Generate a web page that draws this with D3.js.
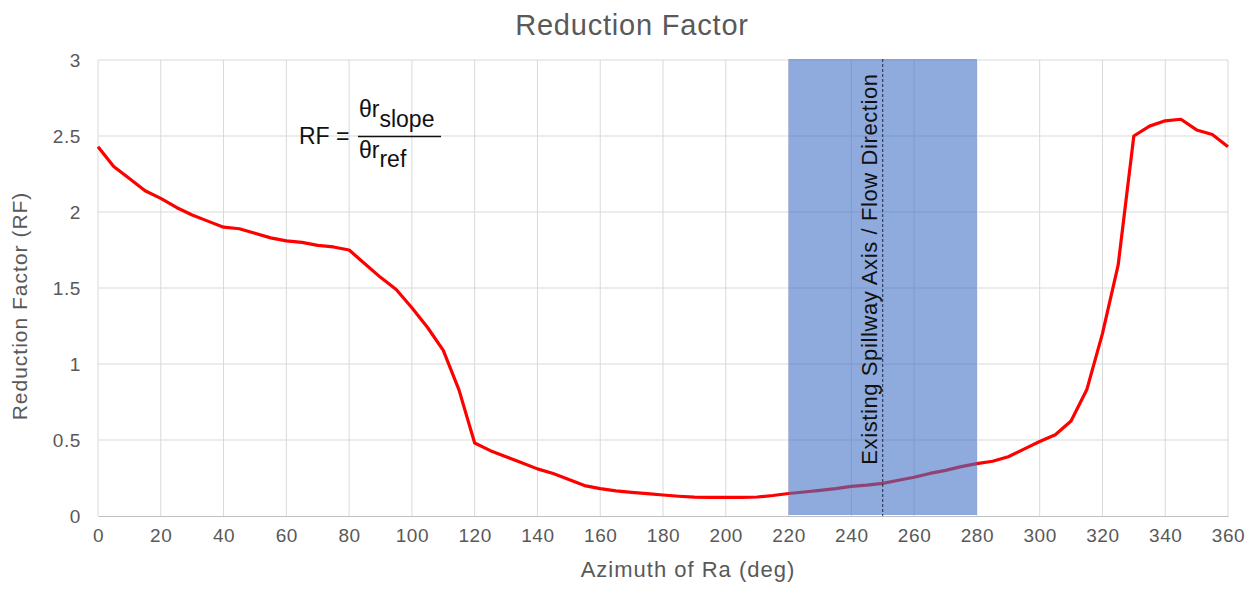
<!DOCTYPE html>
<html>
<head>
<meta charset="utf-8">
<script src="https://cdn.jsdelivr.net/npm/d3@7"></script>
<style>
  html, body { margin: 0; padding: 0; background: #fff; }
  svg { display: block; font-family: "Liberation Sans", Arial, sans-serif; }
</style>
</head>
<body>
<svg id="chart" width="1255" height="595"></svg>
<script>
// Azimuth of Ra (deg), sampled every 5 degrees
const azimuth = [
  0, 5, 10, 15, 20, 25, 30, 35, 40, 45, 50, 55, 60, 65, 70, 75, 80, 85, 90, 95,
  100, 105, 110, 115, 120, 125, 130, 135, 140, 145, 150, 155, 160, 165, 170, 175,
  180, 185, 190, 195, 200, 205, 210, 215, 220, 225, 230, 235, 240, 245, 250, 255,
  260, 265, 270, 275, 280, 285, 290, 295, 300, 305, 310, 315, 320, 325, 330, 335,
  340, 345, 350, 355, 360
];
// Reduction factor RF at each azimuth
const reductionFactor = [
  2.43, 2.30, 2.22, 2.14, 2.09, 2.03, 1.98, 1.94, 1.90, 1.89, 1.86, 1.83, 1.81, 1.80, 1.78, 1.77, 1.75, 1.66, 1.57, 1.49,
  1.37, 1.24, 1.09, 0.83, 0.48, 0.43, 0.39, 0.35, 0.31, 0.28, 0.24, 0.20, 0.18, 0.165, 0.155, 0.147,
  0.138, 0.130, 0.124, 0.123, 0.123, 0.123, 0.125, 0.135, 0.148, 0.158, 0.168, 0.180, 0.195, 0.203, 0.215, 0.235,
  0.255, 0.280, 0.300, 0.325, 0.345, 0.360, 0.390, 0.440, 0.490, 0.535, 0.625, 0.830, 1.20, 1.65, 2.50, 2.565,
  2.60, 2.61, 2.54, 2.51, 2.43
];
const xTicks = [0, 20, 40, 60, 80, 100, 120, 140, 160, 180, 200, 220, 240, 260, 280, 300, 320, 340, 360];
const yTicks = [0, 0.5, 1, 1.5, 2, 2.5, 3];
// Spillway axis band and flow direction
const bandRange = [220, 280];
const flowDirection = [250];

const svg = d3.select("#chart");
const margin = { left: 98, right: 27, top: 60, bottom: 79 };
const W = 1255, H = 595;

const x = d3.scaleLinear().domain([0, 360]).range([margin.left, W - margin.right]);
const y = d3.scaleLinear().domain([0, 3]).range([H - margin.bottom, margin.top]);

const textColor = "#595959";

// Title
svg.append("text")
  .attr("x", 632).attr("y", 35)
  .attr("text-anchor", "middle")
  .attr("font-size", 29).attr("letter-spacing", 0.8)
  .attr("fill", textColor)
  .text("Reduction Factor");

// Gridlines
const grid = svg.append("g");
grid.selectAll("line.h").data(yTicks.filter(d => d > 0)).join("line")
  .attr("class", "h")
  .attr("x1", x(0)).attr("x2", x(360))
  .attr("y1", d => y(d)).attr("y2", d => y(d))
  .attr("stroke", "#d9d9d9").attr("stroke-width", 1);
grid.selectAll("line.v").data(xTicks).join("line")
  .attr("class", "v")
  .attr("x1", d => x(d)).attr("x2", d => x(d))
  .attr("y1", y(3)).attr("y2", y(0))
  .attr("stroke", "#d9d9d9").attr("stroke-width", 1);

// X axis
const xAxis = svg.append("g")
  .attr("transform", `translate(0,${y(0)})`)
  .call(d3.axisBottom(x).tickValues(xTicks).tickSize(0).tickPadding(13).tickFormat(d3.format("d")));
xAxis.select(".domain").attr("stroke", "#bfbfbf").attr("stroke-width", 1.2);
xAxis.selectAll("text")
  .attr("font-size", 19).attr("letter-spacing", 0.6)
  .attr("fill", textColor)
  .attr("font-family", "Liberation Sans, Arial, sans-serif");

// Y axis
const yAxis = svg.append("g")
  .attr("transform", `translate(${x(0)},0)`)
  .call(d3.axisLeft(y).tickValues(yTicks).tickSize(0).tickPadding(17).tickFormat(d => d3.format("")(d)));
yAxis.select(".domain").remove();
yAxis.selectAll("text")
  .attr("font-size", 19).attr("letter-spacing", 0.6)
  .attr("fill", textColor)
  .attr("font-family", "Liberation Sans, Arial, sans-serif");

// Axis titles
svg.append("text")
  .attr("x", 688).attr("y", 577)
  .attr("text-anchor", "middle")
  .attr("font-size", 22).attr("letter-spacing", 1.0)
  .attr("fill", textColor)
  .text("Azimuth of Ra (deg)");

svg.append("text")
  .attr("transform", "translate(27,306) rotate(-90)")
  .attr("text-anchor", "middle")
  .attr("font-size", 21).attr("letter-spacing", 1.0)
  .attr("fill", textColor)
  .text("Reduction Factor (RF)");

// RF curve
const line = d3.line()
  .x((d, i) => x(azimuth[i]))
  .y(d => y(d));
svg.append("path")
  .datum(reductionFactor)
  .attr("d", line)
  .attr("fill", "none")
  .attr("stroke", "#ff0000")
  .attr("stroke-width", 3.2)
  .attr("stroke-linejoin", "round");

// Spillway band (semi-transparent, drawn over the curve)
svg.append("rect")
  .attr("x", x(bandRange[0])).attr("y", y(3) - 1)
  .attr("width", x(bandRange[1]) - x(bandRange[0]))
  .attr("height", y(0) - y(3))
  .attr("fill", "#4472c4").attr("fill-opacity", 0.6);

// Flow direction marker
svg.selectAll("line.flow").data(flowDirection).join("line")
  .attr("class", "flow")
  .attr("x1", d => x(d)).attr("x2", d => x(d))
  .attr("y1", y(3) - 1).attr("y2", y(0))
  .attr("stroke", "#1f2a44").attr("stroke-width", 1)
  .attr("stroke-dasharray", "3,2");

svg.append("text")
  .attr("transform", `translate(${x(flowDirection[0]) - 6},269) rotate(-90)`)
  .attr("text-anchor", "middle")
  .attr("font-size", 22).attr("letter-spacing", 0.6)
  .attr("fill", "#111")
  .text("Existing Spillway Axis / Flow Direction");

// Formula: RF = θr_slope / θr_ref
const eq = svg.append("g").attr("fill", "#111").attr("font-size", 23);
eq.append("text").attr("x", 299).attr("y", 144).text("RF =");
const num = eq.append("text").attr("x", 359).attr("y", 117);
num.append("tspan").text("θr");
num.append("tspan").attr("dy", 10).text("slope");
const den = eq.append("text").attr("x", 359).attr("y", 158);
den.append("tspan").text("θr");
den.append("tspan").attr("dy", 9).text("ref");
eq.append("line")
  .attr("x1", 358).attr("x2", 441).attr("y1", 136.5).attr("y2", 136.5)
  .attr("stroke", "#111").attr("stroke-width", 1.5);
</script>
</body>
</html>
